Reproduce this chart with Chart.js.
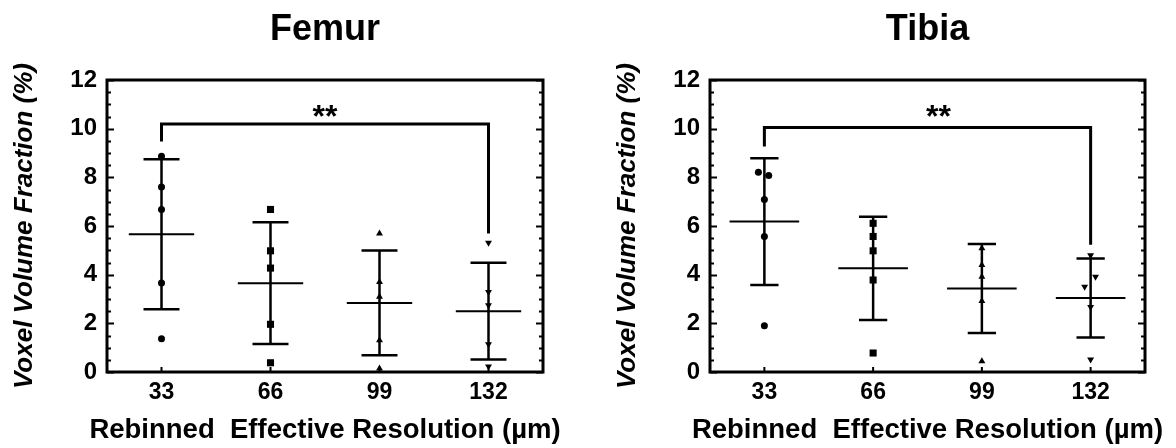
<!DOCTYPE html>
<html>
<head>
<meta charset="utf-8">
<script src="https://cdn.jsdelivr.net/npm/chart.js@4.4.0/dist/chart.umd.min.js"></script>
<style>
  body { margin: 0; background: #fff; width: 1176px; height: 448px; overflow: hidden; position: relative; }
  canvas { position: absolute; top: 0; }
  #femurChart { left: 0; }
  #tibiaChart { left: 603px; }
</style>
</head>
<body>
<canvas id="femurChart" width="590" height="448"></canvas>
<canvas id="tibiaChart" width="573" height="448"></canvas>
<script>
// categories and axis ticks
const resolutions = ['33', '66', '99', '132'];
const xTickValues = [1, 2, 3, 4];
const yTicks = [0, 2, 4, 6, 8, 10, 12];
const xTitle = 'Rebinned  Effective Resolution (\u00b5m)';

// Femur: individual samples per resolution, mean and SD
const femurPoints = [
  [8.87, 7.6, 6.68, 3.66, 1.37],
  [6.68, 4.98, 4.27, 1.96, 0.38],
  [5.69, 3.70, 3.09, 1.30, 0.14],
  [5.31, 3.29, 2.74, 1.14, 0.23]
];
const femurJitter = [
  [0, 0, 0, 0, 0],
  [0, 0, 0, 0, 0],
  [0, 0, 0, 0, 0],
  [0, 0, 0, 0, 0]
];
const femurMeans = [5.66, 3.65, 2.84, 2.50];
const femurSD = [3.08, 2.50, 2.15, 1.99];
// significance bracket: [left leg end, top, right leg end]
const femurBracket = [9.47, 10.19, 5.69];
const femurStars = [2.5, 10.8];

// Tibia
const tibiaPoints = [
  [8.21, 8.08, 7.09, 5.57, 1.90],
  [6.11, 5.57, 4.98, 3.78, 0.78],
  [5.09, 4.40, 3.91, 2.92, 0.44],
  [4.80, 3.91, 3.50, 2.67, 0.51]
];
const tibiaJitter = [
  [-0.055, 0.04, 0, 0, 0],
  [0, 0, 0, 0, 0],
  [0, 0, 0, 0, 0],
  [0, 0.045, -0.055, 0, 0]
];
const tibiaMeans = [6.18, 4.26, 3.43, 3.04];
const tibiaSD = [2.60, 2.12, 1.83, 1.62];
const tibiaBracket = [9.27, 10.05, 5.23];
const tibiaStars = [2.6, 10.8];

const FONT = 'Liberation Sans, Arial, Helvetica, sans-serif';
const markerStyles = ['circle', 'rect', 'triangle', 'triangle'];
const markerRotation = [0, 0, 0, 180];
const markerRadius = [3.5, 5, 4, 4];

// inside ticks, box frame, the ** label and the x axis title
const frameTicks = {
  id: 'frameTicks',
  afterDraw(chart, args, opts) {
    const { ctx, chartArea: a, scales: { x, y } } = chart;
    ctx.save();
    ctx.strokeStyle = '#000';
    ctx.lineWidth = 2;
    for (let v = y.min; v <= y.max + 0.001; v += 0.5) {
      const py = Math.round(y.getPixelForValue(v)) + 0.5;
      const len = (v % 2 === 0) ? 7 : 4;
      ctx.beginPath();
      ctx.moveTo(a.left, py); ctx.lineTo(a.left + len, py);
      ctx.moveTo(a.right, py); ctx.lineTo(a.right - len, py);
      ctx.stroke();
    }
    xTickValues.forEach(v => {
      const px = x.getPixelForValue(v);
      ctx.beginPath();
      ctx.moveTo(px, a.bottom); ctx.lineTo(px, a.bottom - 5);
      ctx.stroke();
    });
    ctx.lineWidth = 3;
    ctx.strokeRect(a.left, a.top, a.right - a.left, a.bottom - a.top);

    ctx.fillStyle = '#000';
    ctx.textAlign = 'center';
    const size = 32;
    ctx.font = 'bold ' + size + 'px ' + FONT;
    ctx.textBaseline = 'middle';
    ctx.fillText('**', x.getPixelForValue(opts.stars[0]), y.getPixelForValue(opts.stars[1]) + 0.27 * size);

    // axis title wider than the plot, so it is not squeezed to the scale width
    ctx.font = 'bold 27.5px ' + FONT;
    ctx.textBaseline = 'alphabetic';
    ctx.fillText(xTitle, (a.left + a.right) / 2, 438);
    ctx.restore();
  }
};

function makeChart(id, title, points, jitter, means, sds, bracket, stars, meanHalf, capHalf) {
  const datasets = [];

  points.forEach((group, i) => {
    datasets.push({
      data: group.map((v, j) => ({ x: xTickValues[i] + jitter[i][j], y: v })),
      pointStyle: markerStyles[i],
      rotation: markerRotation[i],
      pointRadius: markerRadius[i],
      backgroundColor: '#000',
      borderColor: '#000',
      borderWidth: 0,
      showLine: false,
      clip: false
    });
  });

  const meanLine = [];
  const errLine = [];
  means.forEach((m, i) => {
    const cx = xTickValues[i];
    const hi = m + sds[i];
    const lo = m - sds[i];
    meanLine.push({ x: cx - meanHalf, y: m }, { x: cx + meanHalf, y: m }, { x: cx, y: null });
    errLine.push({ x: cx, y: lo }, { x: cx, y: hi }, { x: cx, y: null });
    errLine.push({ x: cx - capHalf, y: hi }, { x: cx + capHalf, y: hi }, { x: cx, y: null });
    errLine.push({ x: cx - capHalf, y: lo }, { x: cx + capHalf, y: lo }, { x: cx, y: null });
  });

  datasets.push({
    data: meanLine, showLine: true, borderColor: '#000', borderWidth: 2,
    pointRadius: 0, spanGaps: false
  });
  datasets.push({
    data: errLine, showLine: true, borderColor: '#000', borderWidth: 2.5,
    pointRadius: 0, spanGaps: false
  });
  datasets.push({
    data: [
      { x: xTickValues[0], y: bracket[0] },
      { x: xTickValues[0], y: bracket[1] },
      { x: xTickValues[3], y: bracket[1] },
      { x: xTickValues[3], y: bracket[2] }
    ],
    showLine: true, borderColor: '#000', borderWidth: 3, pointRadius: 0,
    borderJoinStyle: 'miter'
  });

  return new Chart(document.getElementById(id), {
    type: 'scatter',
    data: { datasets: datasets },
    options: {
      responsive: false,
      animation: false,
      layout: { padding: { left: 0, right: id === 'femurChart' ? 47 : 31, top: 0, bottom: 0 } },
      plugins: {
        legend: { display: false },
        tooltip: { enabled: false },
        title: {
          display: true,
          text: title,
          fullSize: false,
          color: '#000',
          font: { family: FONT, size: 36, weight: 'bold' },
          padding: { top: 8, bottom: 28.8 }
        },
        frameTicks: { stars: stars }
      },
      scales: {
        x: {
          type: 'linear',
          min: 0.5,
          max: 4.5,
          afterBuildTicks: scale => { scale.ticks = xTickValues.map(v => ({ value: v })); },
          afterFit: scale => { scale.height = 76; },
          grid: { display: false, drawTicks: false },
          border: { display: false },
          ticks: {
            padding: 7,
            color: '#000',
            font: { family: FONT, size: 23, weight: 'bold' },
            callback: v => resolutions[xTickValues.indexOf(v)]
          }
        },
        y: {
          type: 'linear',
          min: 0,
          max: 12,
          afterBuildTicks: scale => { scale.ticks = yTicks.map(v => ({ value: v })); },
          afterFit: scale => { scale.width = 107; },
          grid: { display: false, drawTicks: false },
          border: { display: false },
          ticks: {
            padding: 10,
            color: '#000',
            font: { family: FONT, size: 24, weight: 'bold' }
          },
          title: {
            display: true,
            text: 'Voxel Volume Fraction (%)',
            color: '#000',
            font: { family: FONT, size: 26, weight: 'bold', style: 'italic' },
            padding: { top: 9, bottom: 0 }
          }
        }
      }
    },
    plugins: [frameTicks]
  });
}

makeChart('femurChart', 'Femur', femurPoints, femurJitter, femurMeans, femurSD,
  femurBracket, femurStars, 0.30, 0.165);
makeChart('tibiaChart', 'Tibia', tibiaPoints, tibiaJitter, tibiaMeans, tibiaSD,
  tibiaBracket, tibiaStars, 0.32, 0.13);
</script>
</body>
</html>
